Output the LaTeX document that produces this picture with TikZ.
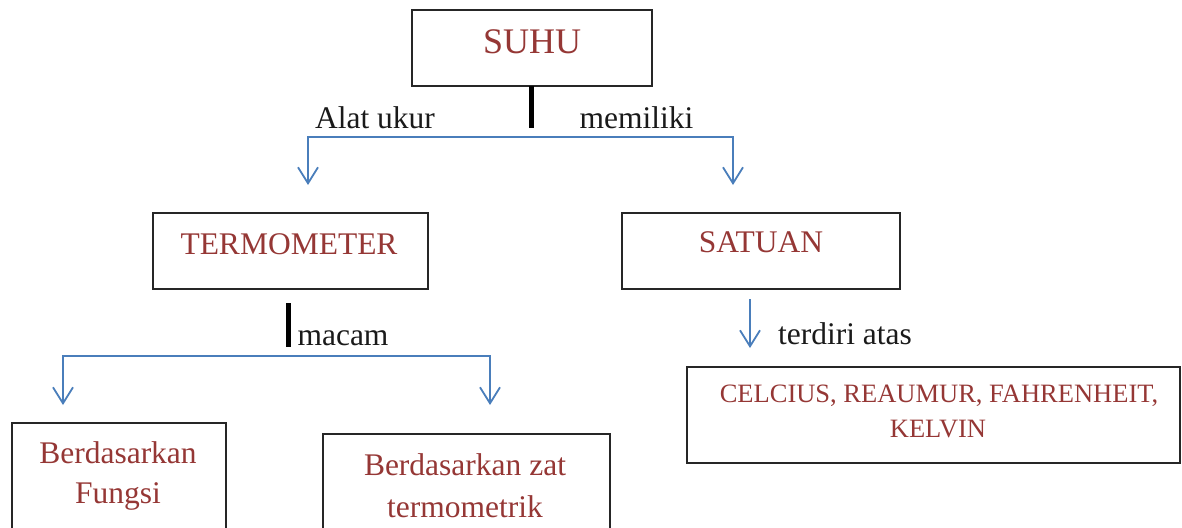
\documentclass[tikz,border=0pt]{standalone}
\usepackage{fontspec}
\setmainfont{Liberation Serif}
\usetikzlibrary{arrows.meta}
\definecolor{txtred}{HTML}{953735}
\definecolor{arrblue}{HTML}{4A7EBB}
\definecolor{txtblack}{HTML}{1A1A1A}
\begin{document}
\begin{tikzpicture}[x=1pt,y=-1pt,
  box/.style={draw=black!85, line width=1.2pt, inner sep=0pt, outer sep=0pt, rectangle},
  redtxt/.style={text=txtred, inner sep=0pt, anchor=base, font=\fontsize{31.5pt}{38pt}\selectfont},
  smallred/.style={text=txtred, inner sep=0pt, anchor=base, font=\fontsize{26.5pt}{32pt}\selectfont},
  lbl/.style={text=txtblack, inner sep=0pt, anchor=base, font=\fontsize{31.5pt}{38pt}\selectfont},
  bar/.style={draw=black, line width=5pt},
  blueline/.style={draw=arrblue, line width=1.8pt, {Straight Barb[length=16pt,width=20pt]}-{Straight Barb[length=16pt,width=20pt]}},
  bluearrow/.style={draw=arrblue, line width=1.8pt, -{Straight Barb[length=16pt,width=20pt]}}
]
\useasboundingbox (0,0) rectangle (1182,527);
\clip (0,0) rectangle (1182,527);

% boxes
\node[box, minimum width=240pt, minimum height=76pt] (suhu) at (532,48) {};
\node[box, minimum width=275pt, minimum height=76pt] (termo) at (290.5,251) {};
\node[box, minimum width=278pt, minimum height=76pt] (satuan) at (761,251) {};
\node[box, minimum width=493pt, minimum height=96pt] (unit) at (933.5,415) {};
\node[box, minimum width=214pt, minimum height=140pt] (fungsi) at (119,493) {};
\node[box, minimum width=287pt, minimum height=140pt] (zat) at (466.5,504) {};

% texts in boxes
\node[redtxt, font=\fontsize{36pt}{42pt}\selectfont] (suhuT) at (532,54) {SUHU};
\node[redtxt] (termoT) at (289,254) {TERMOMETER};
\node[redtxt] (satuanT) at (761,252) {SATUAN};
\node[smallred] (unitA) at (939,402) {CELCIUS, REAUMUR, FAHRENHEIT,};
\node[smallred] (unitB) at (938,437) {KELVIN};
\node[redtxt] (fungsiA) at (118,463) {Berdasarkan};
\node[redtxt] (fungsiB) at (118,503) {Fungsi};
\node[redtxt] (zatA) at (465,475) {Berdasarkan zat};
\node[redtxt] (zatB) at (465,517) {termometrik};

% labels
\node[lbl] (alat) at (375,128) {Alat ukur};
\node[lbl] (memiliki) at (636.5,128) {memiliki};
\node[lbl] (macam) at (343,345) {macam};
\node[lbl] (terdiri) at (845,344) {terdiri atas};

% coordinates
\coordinate (b1) at (531,128);
\coordinate (h1l) at (308,137);
\coordinate (h1r) at (733,137);
\coordinate (a1l) at (308,185);
\coordinate (a1r) at (733,185);
\coordinate (b2t) at (288,303);
\coordinate (b2b) at (288,347);
\coordinate (h2l) at (63,356);
\coordinate (h2r) at (490,356);
\coordinate (a2l) at (63,405);
\coordinate (a2r) at (490,405);
\coordinate (s3) at (750,299);
\coordinate (e3) at (750,348);

% connectors
\draw[bar] (suhu.south -| b1) -- (b1);
\draw[blueline] (a1l) -- (h1l) -- (h1r) -- (a1r);
\draw[bar] (b2t) -- (b2b);
\draw[blueline] (a2l) -- (h2l) -- (h2r) -- (a2r);
\draw[bluearrow] (s3) -- (e3);
\end{tikzpicture}
\end{document}
